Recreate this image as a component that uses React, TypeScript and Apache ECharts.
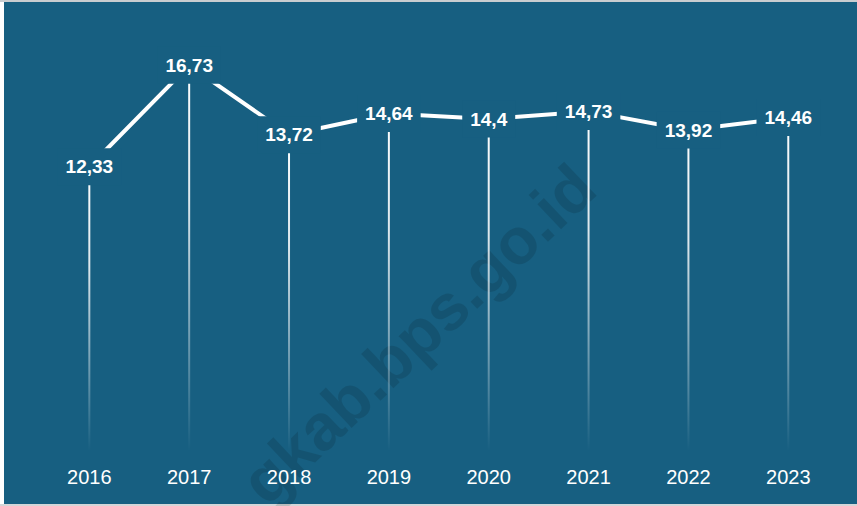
import React, { useEffect, useRef } from "react";
import * as echarts from "echarts";

const years = ["2016", "2017", "2018", "2019", "2020", "2021", "2022", "2023"];
const values = [12.33, 16.73, 13.72, 14.64, 14.4, 14.73, 13.92, 14.46];
const watermark = "gkab.bps.go.id";

const PANEL = "#175f81";
const FONT = "Arial, 'Liberation Sans', sans-serif";

export default function App() {
  const ref = useRef<HTMLDivElement>(null);
  useEffect(() => {
    if (!ref.current) return;
    const chart = echarts.init(ref.current, null, { renderer: "svg" });
    chart.setOption({
      animation: false,
      backgroundColor: "#ffffff",
      graphic: [
        { type: "rect", z: -10, silent: true, shape: { x: 4, y: 2, width: 853, height: 502 }, style: { fill: PANEL } },
        { type: "line", z: -10, silent: true, shape: { x1: 0, y1: 1, x2: 857, y2: 1 }, style: { stroke: "#c9cdd0", lineWidth: 2 } },
        { type: "line", z: -10, silent: true, shape: { x1: 0, y1: 505, x2: 857, y2: 505 }, style: { stroke: "#d4d6d8", lineWidth: 2 } },
        {
          type: "text",
          z: -9,
          silent: true,
          x: 418,
          y: 334,
          rotation: (43.5 * Math.PI) / 180,
          style: {
            text: watermark,
            fill: "rgba(0,0,0,0.12)",
            font: `bold 65px ${FONT}`,
            align: "center",
            verticalAlign: "middle",
          },
        },
      ],
      grid: { left: 39.4, right: 18.8, top: 36, bottom: 55 },
      xAxis: {
        type: "category",
        data: years,
        boundaryGap: true,
        axisLine: { show: false },
        axisTick: { show: false },
        splitLine: { show: false },
        axisLabel: { color: "#ffffff", fontSize: 20, fontFamily: FONT, margin: 16 },
      },
      yAxis: {
        type: "value",
        min: 0,
        max: 18,
        show: false,
        splitLine: { show: false },
      },
      series: [
        {
          type: "bar",
          data: values,
          barWidth: 2,
          z: 1,
          silent: true,
          itemStyle: {
            color: new echarts.graphic.LinearGradient(0, 0, 0, 1, [
              { offset: 0, color: "rgba(255,255,255,1)" },
              { offset: 0.35, color: "rgba(255,255,255,0.85)" },
              { offset: 1, color: "rgba(255,255,255,0)" },
            ]),
          },
        },
        {
          type: "line",
          data: values,
          z: 3,
          symbol: "circle",
          symbolSize: 1,
          itemStyle: { color: "rgba(0,0,0,0)" },
          lineStyle: { color: "#ffffff", width: 4 },
          label: {
            show: true,
            position: "inside",
            color: "#ffffff",
            fontSize: 19,
            fontWeight: "bold",
            fontFamily: FONT,
            backgroundColor: PANEL,
            padding: [9, 8],
            formatter: (p: any) => String(p.value).replace(".", ","),
          },
        },
      ],
    });
    return () => chart.dispose();
  }, []);
  return <div ref={ref} style={{ position: "absolute", left: 0, top: 0, width: 857, height: 506 }} />;
}
